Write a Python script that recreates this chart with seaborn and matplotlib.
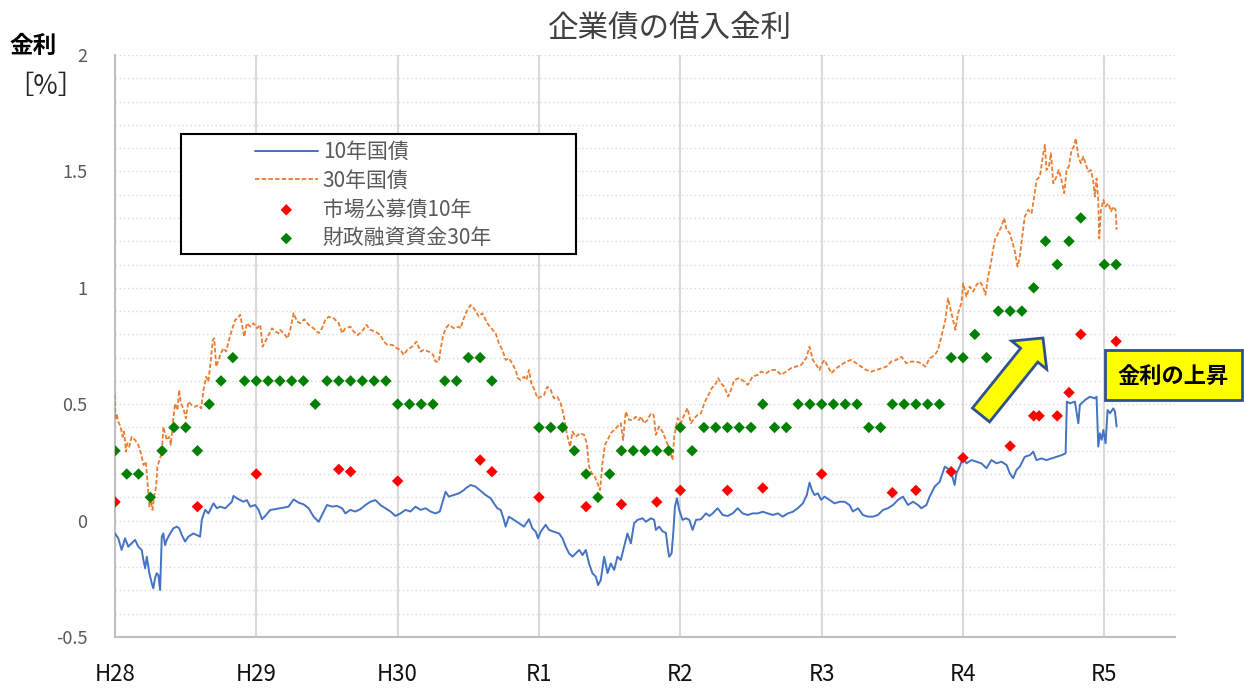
import numpy as np
import pandas as pd
import matplotlib
matplotlib.use('Agg')
import matplotlib.pyplot as plt
import seaborn as sns
from matplotlib.patches import Rectangle, FancyArrow
from matplotlib.transforms import IdentityTransform
from matplotlib.ticker import MultipleLocator, FixedLocator, FuncFormatter

sns.set_style('white')
plt.rcParams['font.family'] = ['Noto Sans CJK JP', 'DejaVu Sans']
plt.rcParams['axes.unicode_minus'] = False

# ---------------- data (decimal years, %) ----------------
T10 = [2016.250, 2016.273, 2016.297, 2016.321, 2016.344, 2016.368, 2016.392, 2016.415, 2016.439, 2016.451,
       2016.463, 2016.475, 2016.493, 2016.510, 2016.521, 2016.533, 2016.545, 2016.557, 2016.569, 2016.581,
       2016.592, 2016.604, 2016.616, 2016.640, 2016.663, 2016.687, 2016.704, 2016.723, 2016.746, 2016.769,
       2016.805, 2016.829, 2016.852, 2016.864, 2016.888, 2016.911, 2016.947, 2016.971, 2016.994, 2017.030,
       2017.053, 2017.077, 2017.088, 2017.112, 2017.136, 2017.159, 2017.183, 2017.207, 2017.242, 2017.266,
       2017.290, 2017.313, 2017.349, 2017.384, 2017.419,
       2017.478, 2017.514, 2017.549, 2017.584, 2017.620, 2017.655, 2017.691, 2017.715, 2017.750, 2017.786,
       2017.821, 2017.857, 2017.880, 2017.915, 2017.951, 2017.986, 2018.022, 2018.057, 2018.093, 2018.128,
       2018.163, 2018.199, 2018.234, 2018.270, 2018.305, 2018.341, 2018.376, 2018.412, 2018.447, 2018.482,
       2018.518, 2018.548, 2018.565, 2018.589, 2018.612, 2018.648, 2018.683, 2018.719,
       2018.730, 2018.766, 2018.801, 2018.837, 2018.872, 2018.908, 2018.931, 2018.955, 2018.979, 2019.002,
       2019.014, 2019.037, 2019.073, 2019.108, 2019.144, 2019.179, 2019.203, 2019.227, 2019.243, 2019.262,
       2019.297, 2019.321, 2019.356, 2019.392, 2019.416, 2019.439, 2019.463, 2019.487, 2019.510, 2019.534,
       2019.558, 2019.581, 2019.604, 2019.628, 2019.652, 2019.668, 2019.687, 2019.711, 2019.735, 2019.758,
       2019.782, 2019.805, 2019.829, 2019.852, 2019.876, 2019.900, 2019.923, 2019.947, 2019.983,
       2020.006, 2020.042, 2020.065, 2020.077, 2020.100, 2020.124, 2020.148, 2020.160, 2020.171, 2020.188,
       2020.200, 2020.212, 2020.226, 2020.242, 2020.266, 2020.290, 2020.313, 2020.337, 2020.361, 2020.396,
       2020.431, 2020.455, 2020.479, 2020.514, 2020.550, 2020.585, 2020.621, 2020.656, 2020.691, 2020.727,
       2020.762, 2020.798, 2020.833, 2020.869, 2020.904, 2020.940, 2020.975, 2021.010, 2021.046, 2021.081,
       2021.117, 2021.145, 2021.164, 2021.181, 2021.199, 2021.223, 2021.246,
       2021.270, 2021.305, 2021.341, 2021.376, 2021.412, 2021.447, 2021.471, 2021.507, 2021.542, 2021.577,
       2021.613, 2021.648, 2021.684, 2021.719, 2021.755, 2021.790, 2021.825, 2021.861, 2021.896, 2021.932,
       2021.955, 2021.991, 2022.014, 2022.050, 2022.085, 2022.121, 2022.156, 2022.175, 2022.191, 2022.203,
       2022.227, 2022.251,
       2022.274, 2022.310, 2022.345, 2022.380, 2022.416, 2022.451, 2022.487, 2022.522, 2022.558, 2022.581,
       2022.605, 2022.628, 2022.652, 2022.687, 2022.723, 2022.747, 2022.770, 2022.806, 2022.841, 2022.876,
       2022.912, 2022.947, 2022.976, 2022.985, 2023.006, 2023.042, 2023.066, 2023.077, 2023.113, 2023.148,
       2023.183, 2023.195, 2023.207, 2023.219, 2023.231, 2023.243, 2023.259, 2023.273, 2023.290, 2023.313,
       2023.325, 2023.337]
Y10 = [-0.055, -0.076, -0.126, -0.076, -0.112, -0.097, -0.083, -0.112, -0.126, -0.169,
       -0.205, -0.155, -0.226, -0.269, -0.291, -0.248, -0.226, -0.234, -0.298, -0.069,
       -0.055, -0.105, -0.083, -0.055, -0.033, -0.026, -0.033, -0.062, -0.090, -0.069,
       -0.055, -0.062, -0.069, 0.003, 0.046, 0.031, 0.074, 0.053, 0.060, 0.053,
       0.067, 0.081, 0.106, 0.096, 0.088, 0.081, 0.088, 0.060, 0.067, 0.046,
       0.006, 0.020, 0.046, 0.049, 0.053,
       0.060, 0.091, 0.077, 0.070, 0.053, 0.017, -0.005, 0.024, 0.067, 0.060,
       0.063, 0.053, 0.031, 0.046, 0.039, 0.049, 0.067, 0.081, 0.088, 0.067,
       0.053, 0.039, 0.020, 0.031, 0.046, 0.039, 0.060, 0.046, 0.053, 0.039,
       0.031, 0.039, 0.074, 0.124, 0.103, 0.110, 0.117, 0.131,
       0.138, 0.153, 0.146, 0.128, 0.110, 0.096, 0.074, 0.053, 0.046, 0.003,
       -0.026, 0.017, 0.003, -0.011, -0.026, 0.006, -0.033, -0.048, -0.076, -0.048,
       -0.018, -0.040, -0.048, -0.055, -0.076, -0.112, -0.141, -0.155, -0.141, -0.126,
       -0.148, -0.126, -0.184, -0.226, -0.241, -0.277, -0.255, -0.155, -0.226, -0.184,
       -0.212, -0.155, -0.169, -0.112, -0.055, -0.098, -0.011, 0.003, 0.010,
       -0.005, 0.010, 0.003, -0.040, -0.026, -0.046, -0.053, -0.112, -0.155, -0.141,
       -0.053, 0.060, 0.096, 0.046, 0.003, 0.010, 0.003, -0.040, 0.003, 0.006,
       0.031, 0.020, 0.031, 0.053, 0.024, 0.020, 0.031, 0.053, 0.031, 0.024,
       0.031, 0.031, 0.038, 0.031, 0.024, 0.031, 0.017, 0.031, 0.038, 0.053,
       0.074, 0.110, 0.163, 0.131, 0.110, 0.117, 0.089,
       0.103, 0.089, 0.074, 0.081, 0.081, 0.067, 0.039, 0.053, 0.024, 0.017,
       0.017, 0.024, 0.046, 0.053, 0.067, 0.089, 0.103, 0.067, 0.081, 0.067,
       0.053, 0.067, 0.103, 0.146, 0.167, 0.232, 0.217, 0.189, 0.153, 0.203,
       0.232, 0.274,
       0.246, 0.260, 0.253, 0.246, 0.225, 0.260, 0.246, 0.253, 0.239, 0.203,
       0.182, 0.217, 0.232, 0.274, 0.281, 0.296, 0.260, 0.267, 0.260, 0.267,
       0.274, 0.281, 0.289, 0.511, 0.504, 0.511, 0.418, 0.497, 0.518, 0.532,
       0.525, 0.532, 0.318, 0.375, 0.347, 0.389, 0.332, 0.475, 0.461, 0.482,
       0.468, 0.404]

T30 = [2016.250, 2016.253, 2016.262, 2016.273, 2016.290, 2016.304, 2016.314, 2016.328, 2016.337, 2016.351,
       2016.368, 2016.392, 2016.415, 2016.439, 2016.451, 2016.468, 2016.479, 2016.493, 2016.503, 2016.515,
       2016.526, 2016.541, 2016.550, 2016.564, 2016.581, 2016.592, 2016.604, 2016.616, 2016.633, 2016.645,
       2016.659, 2016.675, 2016.692, 2016.704, 2016.716, 2016.734, 2016.751, 2016.769, 2016.794, 2016.817,
       2016.840, 2016.860, 2016.876, 2016.895, 2016.911, 2016.928, 2016.942, 2016.952, 2016.966, 2016.982,
       2016.999, 2017.018, 2017.037, 2017.053, 2017.077, 2017.100, 2017.117, 2017.136, 2017.155, 2017.164,
       2017.183, 2017.207, 2017.230, 2017.254, 2017.278, 2017.294, 2017.313, 2017.336, 2017.361, 2017.384,
       2017.407,
       2017.419, 2017.443, 2017.471, 2017.490, 2017.514, 2017.538, 2017.561, 2017.589, 2017.620, 2017.655,
       2017.691, 2017.715, 2017.738, 2017.762, 2017.797, 2017.833, 2017.857, 2017.880, 2017.915, 2017.939,
       2017.967, 2017.998, 2018.029, 2018.057, 2018.093, 2018.128, 2018.152, 2018.176, 2018.211, 2018.246,
       2018.270, 2018.293, 2018.317, 2018.353, 2018.383, 2018.412, 2018.435, 2018.470, 2018.501, 2018.518,
       2018.541, 2018.553, 2018.570, 2018.589, 2018.612, 2018.648, 2018.683,
       2018.695, 2018.718, 2018.743, 2018.766, 2018.789, 2018.825, 2018.849, 2018.884, 2018.913, 2018.943,
       2018.966, 2018.991, 2019.014, 2019.037, 2019.061, 2019.085, 2019.101, 2019.120, 2019.144, 2019.161,
       2019.179, 2019.196, 2019.219, 2019.239, 2019.262, 2019.285, 2019.309, 2019.333, 2019.356, 2019.380,
       2019.404, 2019.427, 2019.446, 2019.470, 2019.487, 2019.510, 2019.540, 2019.569, 2019.588, 2019.604,
       2019.623, 2019.640, 2019.664, 2019.682, 2019.699, 2019.716, 2019.735, 2019.758, 2019.782, 2019.805,
       2019.829, 2019.845, 2019.864, 2019.888, 2019.912, 2019.935, 2019.959,
       2019.971, 2019.994, 2020.018, 2020.042, 2020.061, 2020.077, 2020.100, 2020.124, 2020.148, 2020.171,
       2020.195, 2020.207, 2020.231, 2020.254, 2020.278, 2020.301, 2020.325, 2020.349, 2020.372, 2020.396,
       2020.419, 2020.443, 2020.472, 2020.502, 2020.518, 2020.537, 2020.561, 2020.589, 2020.608, 2020.632,
       2020.667, 2020.703, 2020.727, 2020.762, 2020.798, 2020.821, 2020.857, 2020.892, 2020.928, 2020.963,
       2020.998, 2021.034, 2021.069, 2021.105, 2021.140, 2021.164, 2021.188, 2021.211, 2021.235,
       2021.246, 2021.270, 2021.294, 2021.318, 2021.353, 2021.388, 2021.424, 2021.459, 2021.495, 2021.530,
       2021.565, 2021.601, 2021.636, 2021.672, 2021.707, 2021.742, 2021.778, 2021.813, 2021.849, 2021.884,
       2021.920, 2021.955, 2021.983, 2022.014, 2022.050, 2022.073, 2022.097, 2022.125, 2022.144, 2022.163,
       2022.180, 2022.196, 2022.215, 2022.239,
       2022.251, 2022.274, 2022.298, 2022.322, 2022.345, 2022.369, 2022.392, 2022.409, 2022.428, 2022.451,
       2022.475, 2022.499, 2022.522, 2022.541, 2022.558, 2022.581, 2022.598, 2022.617, 2022.636, 2022.652,
       2022.669, 2022.687, 2022.711, 2022.735, 2022.754, 2022.770, 2022.794, 2022.818, 2022.829, 2022.841,
       2022.858, 2022.872, 2022.889, 2022.912, 2022.928, 2022.947, 2022.966, 2022.983, 2022.999, 2023.018,
       2023.034, 2023.048, 2023.066, 2023.084, 2023.101, 2023.117, 2023.136, 2023.155, 2023.172, 2023.183,
       2023.195, 2023.207, 2023.214, 2023.226, 2023.243, 2023.259, 2023.278, 2023.297, 2023.313, 2023.330,
       2023.337]
Y30 = [0.541, 0.432, 0.460, 0.425, 0.403, 0.360, 0.382, 0.296, 0.332, 0.317,
       0.360, 0.346, 0.325, 0.275, 0.239, 0.253, 0.174, 0.060, 0.088, 0.046,
       0.103, 0.146, 0.232, 0.260, 0.289, 0.403, 0.375, 0.346, 0.360, 0.325,
       0.418, 0.503, 0.475, 0.561, 0.503, 0.482, 0.439, 0.511, 0.496, 0.489,
       0.496, 0.482, 0.561, 0.618, 0.597, 0.690, 0.776, 0.783, 0.661, 0.690,
       0.719, 0.740, 0.726, 0.769, 0.819, 0.862, 0.869, 0.884, 0.819, 0.790,
       0.848, 0.833, 0.848, 0.826, 0.841, 0.747, 0.769, 0.797, 0.826, 0.812,
       0.805,
       0.819, 0.805, 0.783, 0.819, 0.891, 0.855, 0.848, 0.865, 0.841, 0.826,
       0.805, 0.826, 0.862, 0.876, 0.869, 0.848, 0.805, 0.826, 0.833, 0.812,
       0.797, 0.812, 0.841, 0.819, 0.812, 0.797, 0.769, 0.755, 0.755, 0.740,
       0.733, 0.712, 0.733, 0.747, 0.769, 0.726, 0.733, 0.726, 0.712, 0.683,
       0.683, 0.733, 0.790, 0.826, 0.841, 0.826, 0.833,
       0.826, 0.869, 0.905, 0.926, 0.912, 0.876, 0.891, 0.848, 0.826, 0.805,
       0.762, 0.733, 0.690, 0.697, 0.675, 0.647, 0.611, 0.604, 0.618, 0.604,
       0.647, 0.589, 0.561, 0.525, 0.532, 0.539, 0.575, 0.561, 0.525, 0.532,
       0.503, 0.446, 0.375, 0.317, 0.382, 0.360, 0.375, 0.368, 0.332, 0.232,
       0.203, 0.196, 0.160, 0.131, 0.246, 0.325, 0.346, 0.375, 0.389, 0.403,
       0.418, 0.346, 0.468, 0.432, 0.432, 0.446, 0.432,
       0.447, 0.418, 0.432, 0.461, 0.454, 0.368, 0.404, 0.382, 0.346, 0.311,
       0.260, 0.361, 0.440, 0.418, 0.454, 0.483, 0.418, 0.440, 0.454, 0.461,
       0.504, 0.533, 0.568, 0.590, 0.612, 0.590, 0.575, 0.533, 0.561, 0.604,
       0.612, 0.597, 0.583, 0.619, 0.626, 0.640, 0.633, 0.647, 0.647, 0.626,
       0.640, 0.655, 0.662, 0.669, 0.697, 0.747, 0.690, 0.669, 0.647,
       0.669, 0.690, 0.661, 0.633, 0.654, 0.669, 0.683, 0.690, 0.676, 0.661,
       0.647, 0.640, 0.647, 0.654, 0.661, 0.683, 0.690, 0.704, 0.676, 0.683,
       0.683, 0.676, 0.661, 0.697, 0.711, 0.733, 0.790, 0.862, 0.955, 0.905,
       0.862, 0.819, 0.891, 0.934,
       1.019, 0.962, 1.005, 0.984, 1.012, 1.026, 1.005, 0.970, 1.048, 1.120,
       1.206, 1.234, 1.263, 1.299, 1.249, 1.234, 1.199, 1.156, 1.091, 1.134,
       1.220, 1.306, 1.335, 1.320, 1.392, 1.463, 1.478, 1.578, 1.614, 1.506,
       1.521, 1.578, 1.449, 1.478, 1.506, 1.463, 1.406, 1.506, 1.521, 1.592,
       1.606, 1.642, 1.564, 1.535, 1.564, 1.535, 1.499, 1.506, 1.456, 1.392,
       1.470, 1.377, 1.212, 1.334, 1.377, 1.349, 1.363, 1.328, 1.349, 1.334,
       1.249]

# 財政融資資金30年 (monthly)
G_MONTHS = ['2016-04', '2016-05', '2016-06', '2016-07', '2016-08', '2016-09', '2016-10', '2016-11', '2016-12',
            '2017-01', '2017-02', '2017-03', '2017-04', '2017-05', '2017-06', '2017-07', '2017-08', '2017-09',
            '2017-10', '2017-11', '2017-12',
            '2018-01', '2018-02', '2018-03', '2018-04', '2018-05', '2018-06', '2018-07', '2018-08', '2018-09',
            '2018-10', '2018-11', '2018-12',
            '2019-04', '2019-05', '2019-06', '2019-07', '2019-08', '2019-09', '2019-10', '2019-11', '2019-12',
            '2020-01', '2020-02', '2020-03', '2020-04', '2020-05', '2020-06', '2020-07', '2020-08', '2020-09',
            '2020-10', '2020-11', '2020-12',
            '2021-01', '2021-02', '2021-03', '2021-04', '2021-05', '2021-06', '2021-07', '2021-08', '2021-09',
            '2021-10', '2021-11', '2021-12',
            '2022-01', '2022-02', '2022-03', '2022-04', '2022-05', '2022-06', '2022-07', '2022-08', '2022-09',
            '2022-10', '2022-11', '2022-12',
            '2023-01', '2023-02', '2023-04', '2023-05']
G_VALS = [0.30, 0.20, 0.20, 0.10, 0.30, 0.40, 0.40, 0.30, 0.50,
          0.60, 0.70, 0.60, 0.60, 0.60, 0.60, 0.60, 0.60, 0.50, 0.60, 0.60, 0.60,
          0.60, 0.60, 0.60, 0.50, 0.50, 0.50, 0.50, 0.60, 0.60, 0.70, 0.70, 0.60,
          0.40, 0.40, 0.40, 0.30, 0.20, 0.10, 0.20, 0.30, 0.30,
          0.30, 0.30, 0.30, 0.40, 0.30, 0.40, 0.40, 0.40, 0.40, 0.40, 0.50, 0.40,
          0.40, 0.50, 0.50, 0.50, 0.50, 0.50, 0.50, 0.40, 0.40, 0.50, 0.50, 0.50,
          0.50, 0.50, 0.70, 0.70, 0.80, 0.70, 0.90, 0.90, 0.90, 1.00, 1.20, 1.10,
          1.20, 1.30, 1.10, 1.10]

# 市場公募債10年
R_DATES = ['2016-04-01', '2016-11-01', '2017-04-01', '2017-11-01', '2017-12-01', '2018-04-01',
           '2018-11-01', '2018-12-01', '2019-04-01', '2019-08-01', '2019-11-01', '2020-02-01',
           '2020-04-01', '2020-08-01', '2020-11-01', '2021-04-01', '2021-10-01', '2021-12-01',
           '2022-03-01', '2022-04-01', '2022-08-01', '2022-10-01', '2022-10-15', '2022-12-01',
           '2023-01-01', '2023-02-01', '2023-05-01']
R_VALS = [0.08, 0.06, 0.20, 0.22, 0.21, 0.17,
          0.26, 0.21, 0.10, 0.06, 0.07, 0.08,
          0.13, 0.13, 0.14, 0.20, 0.12, 0.13,
          0.21, 0.27, 0.32, 0.45, 0.45, 0.45,
          0.55, 0.80, 0.77]

YEAR_TICKS = [2016.25, 2017.25, 2018.25, 2019.25, 2020.25, 2021.25, 2022.25, 2023.25]
YEAR_LABELS = ['H28', 'H29', 'H30', 'R1', 'R2', 'R3', 'R4', 'R5']
SERIES = ['10年国債', '30年国債', '市場公募債10年', '財政融資資金30年']


def to_decimal_year(strings):
    d = pd.to_datetime(strings)
    return np.asarray(d.year + (d.month - 1) / 12.0 + (d.day - 1) / 365.25)


g_t = to_decimal_year([m + '-01' for m in G_MONTHS])
r_t = to_decimal_year(R_DATES)

df10 = pd.DataFrame({'t': T10, 'v': Y10})
df30 = pd.DataFrame({'t': T30, 'v': Y30})
dfg = pd.DataFrame({'t': g_t, 'v': G_VALS})
dfr = pd.DataFrame({'t': r_t, 'v': R_VALS})

# ---------------- figure ----------------
W, H = 1244, 688
fig = plt.figure(figsize=(W / 100, H / 100), dpi=100)
ax = fig.add_axes([115 / W, 51 / H, 1060 / W, 582 / H])

GRAY_T = '#595959'
GRID = '#d9d9d9'

ax.set_xlim(2016.25, 2023.75)
ax.set_ylim(-0.5, 2.0)

sns.lineplot(data=df10, x='t', y='v', ax=ax, color='#4472C4', lw=1.4, sort=False,
             estimator=None, label=SERIES[0], zorder=3)
sns.lineplot(data=df30, x='t', y='v', ax=ax, color='#ED7D31', lw=1.3, sort=False,
             estimator=None, label=SERIES[1], linestyle=(0, (2.5, 1.2)), zorder=3)
sns.scatterplot(data=dfr, x='t', y='v', ax=ax, color='#FF0000', marker='D', s=34,
                edgecolor='none', label=SERIES[2], zorder=4)
sns.scatterplot(data=dfg, x='t', y='v', ax=ax, color='#008000', marker='D', s=34,
                edgecolor='none', label=SERIES[3], zorder=4)

ax.set_xlabel('')
ax.set_ylabel('')

# axes styling
for side in ['top', 'right']:
    ax.spines[side].set_visible(False)
for side in ['left', 'bottom']:
    ax.spines[side].set_color('#bfbfbf')
    ax.spines[side].set_linewidth(1.5)

ax.xaxis.set_major_locator(FixedLocator(YEAR_TICKS))
ax.set_xticklabels(YEAR_LABELS)
ax.xaxis.set_minor_locator(MultipleLocator(0.2))
ax.yaxis.set_major_locator(MultipleLocator(0.5))
ax.yaxis.set_minor_locator(MultipleLocator(0.1))
ax.yaxis.set_major_formatter(FuncFormatter(lambda v, p: f'{v:g}'))

ax.grid(axis='y', which='both', color=GRID, linestyle=(0, (1, 2)), lw=1.0)
ax.grid(axis='x', which='major', color=GRID, linestyle='-', lw=1.5)
ax.set_axisbelow(True)

ax.tick_params(axis='both', which='both', direction='in', color='#bfbfbf', width=1)
ax.tick_params(axis='y', which='both', length=4, labelsize=13, labelcolor=GRAY_T, pad=20)
ax.tick_params(axis='x', which='both', length=5, labelsize=16, labelcolor='#111111', pad=19)

# legend (frame drawn as a separate rectangle)
frame = Rectangle((181, H - 254), 395, 120, transform=IdentityTransform(),
                  facecolor='white', edgecolor='black', lw=1.5, zorder=5)
ax.add_patch(frame)
handles, labels = ax.get_legend_handles_labels()
leg = ax.legend(handles, labels, loc='upper left', bbox_to_anchor=(255, H - 141),
                bbox_transform=IdentityTransform(), frameon=False, borderpad=0,
                borderaxespad=0, handlelength=3.0, handletextpad=0.25,
                labelspacing=0.32, fontsize=15, labelcolor=GRAY_T)
leg.set_zorder(6)

# titles and axis caption
fig.text(670 / W, 1 - 28 / H, '企業債の借入金利', ha='center', va='center',
         fontsize=22, color='#404040')
fig.text(33 / W, 1 - 46 / H, '金利', ha='center', va='center', fontsize=17,
         fontweight='bold', color='black')
fig.text(46 / W, 1 - 86 / H, '［%］', ha='center', va='center', fontsize=19, color='#262626')

# annotation arrow and box
arrow = FancyArrow(981, H - 415, 62, 77, width=22, head_width=45, head_length=22,
                   length_includes_head=True, transform=IdentityTransform(),
                   facecolor='#FFFF00', edgecolor='#2F528F', lw=2, zorder=7)
fig.add_artist(arrow)
box = Rectangle((1105, H - 400), 137, 50, transform=IdentityTransform(),
                facecolor='#FFFF00', edgecolor='#2F528F', lw=2, zorder=7)
fig.add_artist(box)
fig.text(1173 / W, 1 - 376 / H, '金利の上昇', ha='center', va='center', fontsize=16,
         fontweight='bold', color='black', zorder=8)

fig.savefig('out.png', dpi=100)
